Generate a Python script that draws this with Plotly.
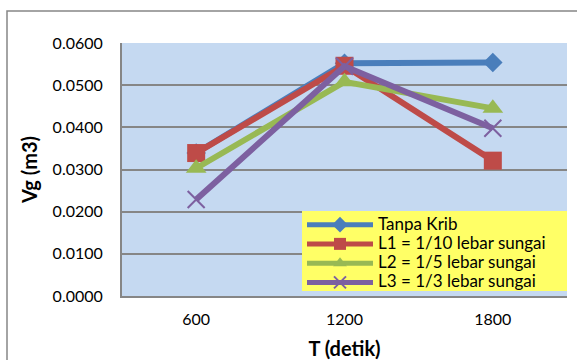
import plotly.graph_objects as go

waktu = ["600", "1200", "1800"]
tanpa_krib = [0.0339, 0.0552, 0.0554]
l1_sepersepuluh = [0.0339, 0.0546, 0.0321]
l2_seperlima = [0.0303, 0.0508, 0.0445]
l3_sepertiga = [0.0229, 0.0545, 0.0398]
y_ticks = [0.0, 0.01, 0.02, 0.03, 0.04, 0.05, 0.06]

FONT = "Lato, Carlito, 'Liberation Sans', sans-serif"

series = [
    ("Tanpa Krib", tanpa_krib, "#4A7EBB", dict(symbol="diamond", size=15)),
    ("L1 = 1/10 lebar sungai", l1_sepersepuluh, "#BE4B48", dict(symbol="square", size=18)),
    ("L2 = 1/5 lebar sungai", l2_seperlima, "#98B954", dict(symbol="triangle-up", size=18)),
    ("L3 = 1/3 lebar sungai", l3_sepertiga, "#7D60A0",
     dict(symbol="x-thin-open", size=17, line=dict(width=2, color="#7D60A0"))),
]

fig = go.Figure()
for name, vals, color, marker in series:
    marker = dict(marker, color=color)
    fig.add_trace(go.Scatter(
        x=waktu, y=vals, mode="lines+markers",
        # larger glyphs inside tightly spaced legend rows
        name=f'<span style="font-size:17px">{name}</span>',
        line=dict(color=color, width=6), marker=marker,
    ))

W, H = 577, 360
L, R, T, B = 122, 10, 43, 64
pw, ph = W - L - R, H - T - B

def px_x(p):
    return (p - L) / pw

def px_y(p):
    return (H - B - p) / ph

fig.update_layout(
    width=W, height=H,
    margin=dict(l=L, r=R, t=T, b=B, autoexpand=False),
    paper_bgcolor="white",
    plot_bgcolor="#C5D9F1",
    font=dict(family=FONT, size=16, color="black"),
    showlegend=True,
    legend=dict(
        x=px_x(302), y=px_y(210), xanchor="left", yanchor="top",
        bgcolor="rgba(0,0,0,0)", borderwidth=0,
        font=dict(family=FONT, size=12.5, color="black"),
        tracegroupgap=0, itemsizing="constant", itemwidth=66,
    ),
    xaxis=dict(
        type="category", range=[-0.5, 2.5], automargin=False,
        showgrid=False, showline=True, linecolor="#868686", linewidth=2,
        ticks="", tickfont=dict(size=16), ticklabelstandoff=8,
        title=dict(text="<b>T (detik)</b>", font=dict(size=20), standoff=18),
        zeroline=False,
    ),
    yaxis=dict(
        range=[0, 0.06], tickvals=y_ticks, tickformat=".4f", automargin=False,
        showgrid=True, gridcolor="#868686", gridwidth=1.5,
        showline=True, linecolor="#868686", linewidth=2,
        ticks="", tickfont=dict(size=16), ticklabelstandoff=14,
        title=dict(text="<b>Vg (m3)</b>", font=dict(size=20), standoff=10),
        zeroline=False,
    ),
    shapes=[
        # outer chart frame
        dict(type="rect", xref="paper", yref="paper",
             x0=px_x(7), x1=px_x(590), y0=px_y(11), y1=px_y(380),
             line=dict(color="#868686", width=1.5), layer="below"),
        # yellow legend panel
        dict(type="rect", xref="paper", yref="paper",
             x0=px_x(302), x1=px_x(567), y0=px_y(211), y1=px_y(291),
             fillcolor="#FFFF66", line=dict(width=0), layer="above"),
    ],
)

fig.write_html("out.html")
